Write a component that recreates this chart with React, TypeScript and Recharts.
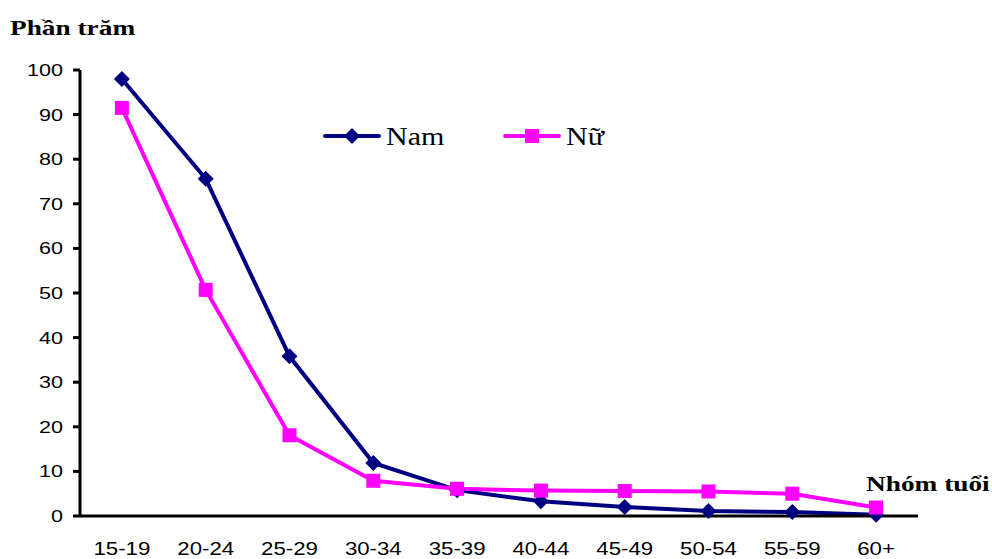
import { LineChart, Line, XAxis, YAxis, Legend } from 'recharts';

const groups = ['15-19', '20-24', '25-29', '30-34', '35-39', '40-44', '45-49', '50-54', '55-59', '60+'];
const nam = [98.0, 75.6, 35.8, 11.9, 5.8, 3.3, 2.0, 1.1, 0.9, 0.3];
const nu = [91.5, 50.7, 18.1, 7.9, 6.1, 5.7, 5.6, 5.5, 5.0, 1.9];
const yTicks = [0, 10, 20, 30, 40, 50, 60, 70, 80, 90, 100];
const bandTicks = [0, 1, 2, 3, 4, 5, 6, 7, 8, 9, 10];

const NAVY = '#000080';
const PINK = '#FF00FF';
const SX = 1.27;

const data = groups.map((g, i) => ({ group: g, pos: i + 0.5, nam: nam[i], nu: nu[i] }));

const Diamond = (props: any) => {
  const { cx, cy } = props;
  if (cx == null || cy == null) return null;
  const r = 8;
  return <path d={`M${cx},${cy - r}L${cx + r},${cy}L${cx},${cy + r}L${cx - r},${cy}Z`} fill={NAVY} />;
};

const Square = (props: any) => {
  const { cx, cy } = props;
  if (cx == null || cy == null) return null;
  return <rect x={cx - 7} y={cy - 7} width={14} height={14} fill={PINK} />;
};

const YTick = (props: any) => {
  const { x, y, payload } = props;
  return (
    <g transform={`translate(${x - 8},${y}) scale(${SX},1)`}>
      <text textAnchor="end" dy={6} fontSize={17} fontFamily="'Liberation Sans', Arial, sans-serif" fill="#000">
        {payload.value}
      </text>
    </g>
  );
};

const XTick = (props: any) => {
  const { x, y, payload } = props;
  return (
    <g transform={`translate(${x},${y}) scale(${SX},1)`}>
      <text textAnchor="middle" dy={19} fontSize={17.5} fontFamily="'Liberation Sans', Arial, sans-serif" fill="#000">
        {payload.value}
      </text>
    </g>
  );
};

const LegendBox = () => (
  <svg width={330} height={40}>
    <line x1={3} y1={16} x2={57} y2={16} stroke={NAVY} strokeWidth={4} strokeLinecap="round" />
    <path d="M30,8L38,16L30,24L22,16Z" fill={NAVY} />
    <g transform={`translate(64,25) scale(1.2,1)`}>
      <text fontSize={25} fontFamily="'Liberation Serif', 'Times New Roman', serif" fill="#000">Nam</text>
    </g>
    <line x1={183} y1={16} x2={237} y2={16} stroke={PINK} strokeWidth={4} strokeLinecap="round" />
    <rect x={203} y={9} width={14} height={14} fill={PINK} />
    <g transform={`translate(244,25) scale(1.2,1)`}>
      <text fontSize={25} fontFamily="'Liberation Serif', 'Times New Roman', serif" fill="#000">Nữ</text>
    </g>
  </svg>
);

const titleStyle: React.CSSProperties = {
  position: 'absolute',
  fontFamily: "'Liberation Serif', 'Times New Roman', serif",
  fontWeight: 'bold',
  fontSize: 21.5,
  transform: `scale(${SX},1)`,
  transformOrigin: 'left top',
  whiteSpace: 'nowrap',
  lineHeight: 1,
};

export default function App() {
  return (
    <div style={{ position: 'absolute', left: 0, top: 0, width: 992, height: 559, background: '#fff' }}>
      <LineChart width={992} height={559} data={data} margin={{ top: 70, right: 74, bottom: 0, left: 0 }}>
        <XAxis
          xAxisId="axis"
          type="number"
          dataKey="pos"
          domain={[0, 10]}
          ticks={bandTicks}
          tick={false}
          tickSize={9}
          height={12}
          axisLine={{ stroke: '#000', strokeWidth: 3 }}
          tickLine={{ stroke: '#000', strokeWidth: 3 }}
        />
        <XAxis
          xAxisId="labels"
          dataKey="group"
          scale="band"
          height={31}
          axisLine={false}
          tickLine={false}
          interval={0}
          tick={<XTick />}
        />
        <YAxis
          type="number"
          domain={[0, 100]}
          ticks={yTicks}
          width={80}
          tickSize={7}
          interval={0}
          axisLine={{ stroke: '#000', strokeWidth: 3 }}
          tickLine={{ stroke: '#000', strokeWidth: 3 }}
          tick={<YTick />}
        />
        <Legend
          layout="horizontal"
          verticalAlign="middle"
          align="center"
          wrapperStyle={{ position: 'absolute', left: 322, top: 120, width: 330 }}
          content={() => <LegendBox />}
        />
        <Line
          xAxisId="axis"
          dataKey="nam"
          stroke={NAVY}
          strokeWidth={4}
          dot={<Diamond />}
          activeDot={false}
          isAnimationActive={false}
        />
        <Line
          xAxisId="axis"
          dataKey="nu"
          stroke={PINK}
          strokeWidth={4}
          dot={<Square />}
          activeDot={false}
          isAnimationActive={false}
        />
      </LineChart>
      <div style={{ ...titleStyle, left: 10, top: 18 }}>Phần trăm</div>
      <div style={{ ...titleStyle, left: 866, top: 474 }}>Nhóm tuổi</div>
    </div>
  );
}
